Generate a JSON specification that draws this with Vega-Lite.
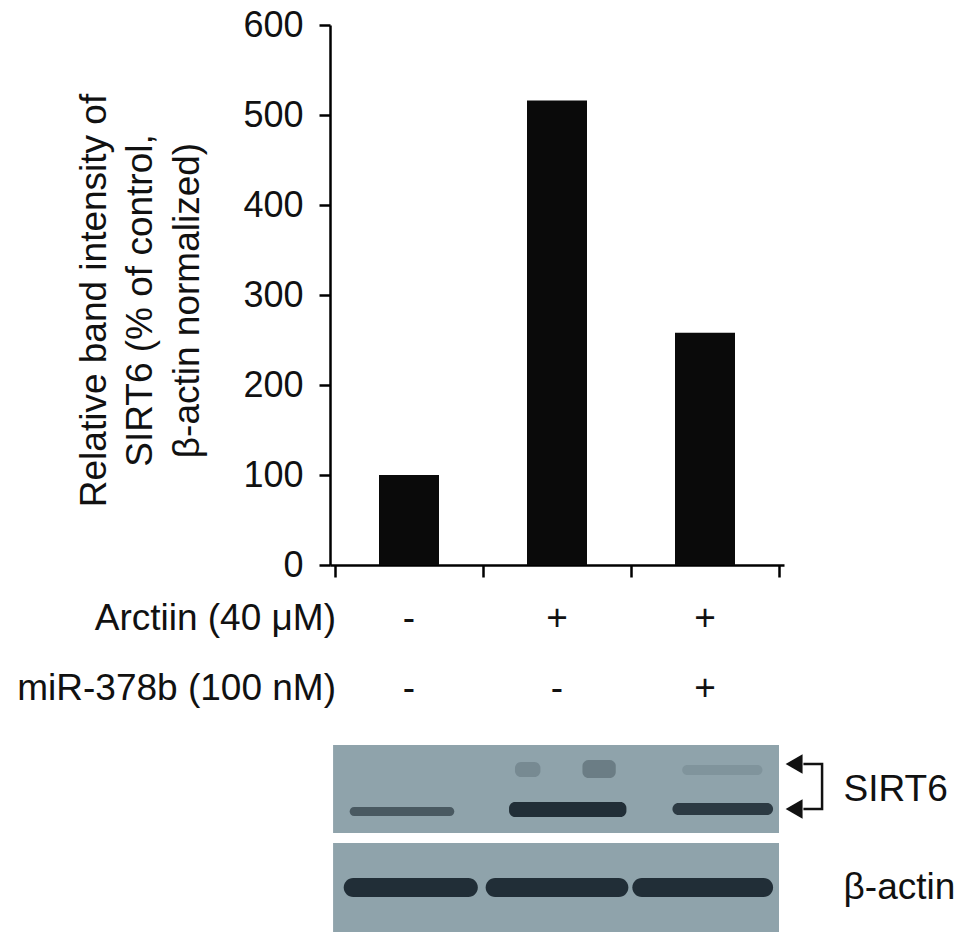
{
  "$schema": "https://vega.github.io/schema/vega-lite/v6.json",
  "width": 454,
  "height": 907,
  "autosize": {"type": "none"},
  "padding": {"left": 330, "top": 25, "right": 186, "bottom": 13},
  "background": "white",
  "config": {
    "view": {"stroke": null},
    "font": "Liberation Sans",
    "axis": {"grid": false, "domainColor": "#000", "tickColor": "#000", "labelColor": "#111", "titleColor": "#111", "labelFont": "Liberation Sans", "titleFont": "Liberation Sans"},
    "text": {"font": "Liberation Sans", "color": "#111"}
  },
  "datasets": {
    "bars": [
      {"pos": 1, "group": "Control", "value": 100},
      {"pos": 2, "group": "Arctiin", "value": 516},
      {"pos": 3, "group": "Arctiin + miR-378b", "value": 258}
    ],
    "rowlabels": [
      {"label": "Arctiin (40 μM)", "d": 605},
      {"label": "miR-378b (100 nM)", "d": 675}
    ],
    "signs": [
      {"lane": 1, "d": 605, "s": "-"},
      {"lane": 2, "d": 605, "s": "+"},
      {"lane": 3, "d": 605, "s": "+"},
      {"lane": 1, "d": 675, "s": "-"},
      {"lane": 2, "d": 675, "s": "-"},
      {"lane": 3, "d": 675, "s": "+"}
    ],
    "panels": [
      {"panel": "SIRT6", "x1": 0.487, "x2": 3.5, "d1": 720, "d2": 808},
      {"panel": "β-actin", "x1": 0.487, "x2": 3.5, "d1": 818, "d2": 907}
    ],
    "sirtbands": [
      {"lane": 1, "x1": 0.599, "x2": 1.306, "d1": 782, "d2": 791, "intensity": 0.6},
      {"lane": 2, "x1": 1.676, "x2": 2.469, "d1": 777, "d2": 792, "intensity": 0.95},
      {"lane": 2, "x1": 1.716, "x2": 1.888, "d1": 737, "d2": 752, "intensity": 0.2},
      {"lane": 2, "x1": 2.172, "x2": 2.397, "d1": 735, "d2": 753, "intensity": 0.3},
      {"lane": 3, "x1": 2.78, "x2": 3.46, "d1": 778, "d2": 790, "intensity": 0.85},
      {"lane": 3, "x1": 2.846, "x2": 3.388, "d1": 740, "d2": 750, "intensity": 0.12}
    ],
    "actinbands": [
      {"lane": 1, "x1": 0.559, "x2": 1.465, "d1": 853, "d2": 872, "intensity": 0.95},
      {"lane": 2, "x1": 1.518, "x2": 2.482, "d1": 853, "d2": 872, "intensity": 0.95},
      {"lane": 3, "x1": 2.509, "x2": 3.46, "d1": 853, "d2": 872, "intensity": 0.95}
    ],
    "bracket": [
      {"x": 3.665, "d": 739, "o": 1},
      {"x": 3.791, "d": 739, "o": 2},
      {"x": 3.791, "d": 784, "o": 3},
      {"x": 3.665, "d": 784, "o": 4}
    ],
    "arrows": [
      {"x": 3.602, "d": 739},
      {"x": 3.602, "d": 784}
    ],
    "blotlabels": [
      {"label": "SIRT6", "x": 3.936, "d": 765},
      {"label": "β-actin", "x": 3.936, "d": 863}
    ]
  },
  "layer": [
    {
      "data": {"name": "bars"},
      "mark": {"type": "bar", "width": 60, "color": "#0a0a0a"},
      "encoding": {
        "x": {
          "field": "pos", "type": "quantitative",
          "scale": {"domain": [0.5, 3.5], "nice": false, "zero": false},
          "axis": {"values": [0.5, 1.5, 2.5, 3.5], "labels": false, "title": null, "orient": "bottom", "offset": -367, "tickSize": 12, "tickWidth": 2.5, "domainWidth": 2.5}
        },
        "y": {
          "field": "value", "type": "quantitative",
          "scale": {"domain": [0, 600], "range": [540, 0], "nice": false},
          "axis": {
            "values": [0, 100, 200, 300, 400, 500, 600],
            "labelFontSize": 36, "labelPadding": 16, "tickSize": 11, "tickWidth": 2.5, "domainWidth": 2.5,
            "title": ["Relative band intensity of", "SIRT6 (% of control,", "β-actin normalized)"],
            "titleFontSize": 37, "titleFontWeight": "normal", "titleLineHeight": 46.5,
            "titleAngle": 270, "titleAlign": "center", "titleBaseline": "middle",
            "titleX": -236, "titleY": 275
          }
        },
        "y2": {"datum": 0}
      }
    },
    {
      "layer": [
        {
          "data": {"name": "rowlabels"},
          "mark": {"type": "text", "align": "right", "baseline": "alphabetic", "fontSize": 37, "dx": 1},
          "encoding": {
            "x": {"datum": 0.5, "type": "quantitative", "scale": {"domain": [0.5, 3.5], "nice": false, "zero": false}},
            "y": {"field": "d", "type": "quantitative", "scale": {"domain": [0, 907], "range": [0, 907]}, "axis": null},
            "text": {"field": "label"}
          }
        },
        {
          "data": {"name": "signs"},
          "mark": {"type": "text", "align": "center", "baseline": "alphabetic", "fontSize": 37},
          "encoding": {
            "x": {"field": "lane", "type": "quantitative", "scale": {"domain": [0.5, 3.5], "nice": false, "zero": false}},
            "y": {"field": "d", "type": "quantitative", "scale": {"domain": [0, 907], "range": [0, 907]}, "axis": null},
            "text": {"field": "s"}
          }
        },
        {
          "data": {"name": "panels"},
          "mark": {"type": "rect", "color": "#8fa3ab"},
          "encoding": {
            "x": {"field": "x1", "type": "quantitative", "scale": {"domain": [0.5, 3.5], "nice": false, "zero": false}},
            "x2": {"field": "x2"},
            "y": {"field": "d1", "type": "quantitative", "scale": {"domain": [0, 907], "range": [0, 907]}, "axis": null},
            "y2": {"field": "d2"}
          }
        },
        {
          "data": {"name": "sirtbands"},
          "mark": {"type": "rect", "color": "#1b2830", "cornerRadius": 6},
          "encoding": {
            "x": {"field": "x1", "type": "quantitative", "scale": {"domain": [0.5, 3.5], "nice": false, "zero": false}},
            "x2": {"field": "x2"},
            "y": {"field": "d1", "type": "quantitative", "scale": {"domain": [0, 907], "range": [0, 907]}, "axis": null},
            "y2": {"field": "d2"},
            "opacity": {"field": "intensity", "type": "quantitative", "scale": null}
          }
        },
        {
          "data": {"name": "actinbands"},
          "mark": {"type": "rect", "color": "#1b2830", "cornerRadius": 9.5},
          "encoding": {
            "x": {"field": "x1", "type": "quantitative", "scale": {"domain": [0.5, 3.5], "nice": false, "zero": false}},
            "x2": {"field": "x2"},
            "y": {"field": "d1", "type": "quantitative", "scale": {"domain": [0, 907], "range": [0, 907]}, "axis": null},
            "y2": {"field": "d2"},
            "opacity": {"field": "intensity", "type": "quantitative", "scale": null}
          }
        },
        {
          "data": {"name": "bracket"},
          "mark": {"type": "line", "color": "#111", "strokeWidth": 2.5},
          "encoding": {
            "x": {"field": "x", "type": "quantitative", "scale": {"domain": [0.5, 3.5], "nice": false, "zero": false}},
            "y": {"field": "d", "type": "quantitative", "scale": {"domain": [0, 907], "range": [0, 907]}, "axis": null},
            "order": {"field": "o"}
          }
        },
        {
          "data": {"name": "arrows"},
          "mark": {"type": "point", "shape": "triangle-left", "filled": true, "color": "#111", "size": 380, "opacity": 1},
          "encoding": {
            "x": {"field": "x", "type": "quantitative", "scale": {"domain": [0.5, 3.5], "nice": false, "zero": false}},
            "y": {"field": "d", "type": "quantitative", "scale": {"domain": [0, 907], "range": [0, 907]}, "axis": null}
          }
        },
        {
          "data": {"name": "blotlabels"},
          "mark": {"type": "text", "align": "left", "baseline": "middle", "fontSize": 37},
          "encoding": {
            "x": {"field": "x", "type": "quantitative", "scale": {"domain": [0.5, 3.5], "nice": false, "zero": false}},
            "y": {"field": "d", "type": "quantitative", "scale": {"domain": [0, 907], "range": [0, 907]}, "axis": null},
            "text": {"field": "label"}
          }
        }
      ]
    }
  ],
  "resolve": {"scale": {"y": "independent"}}
}
